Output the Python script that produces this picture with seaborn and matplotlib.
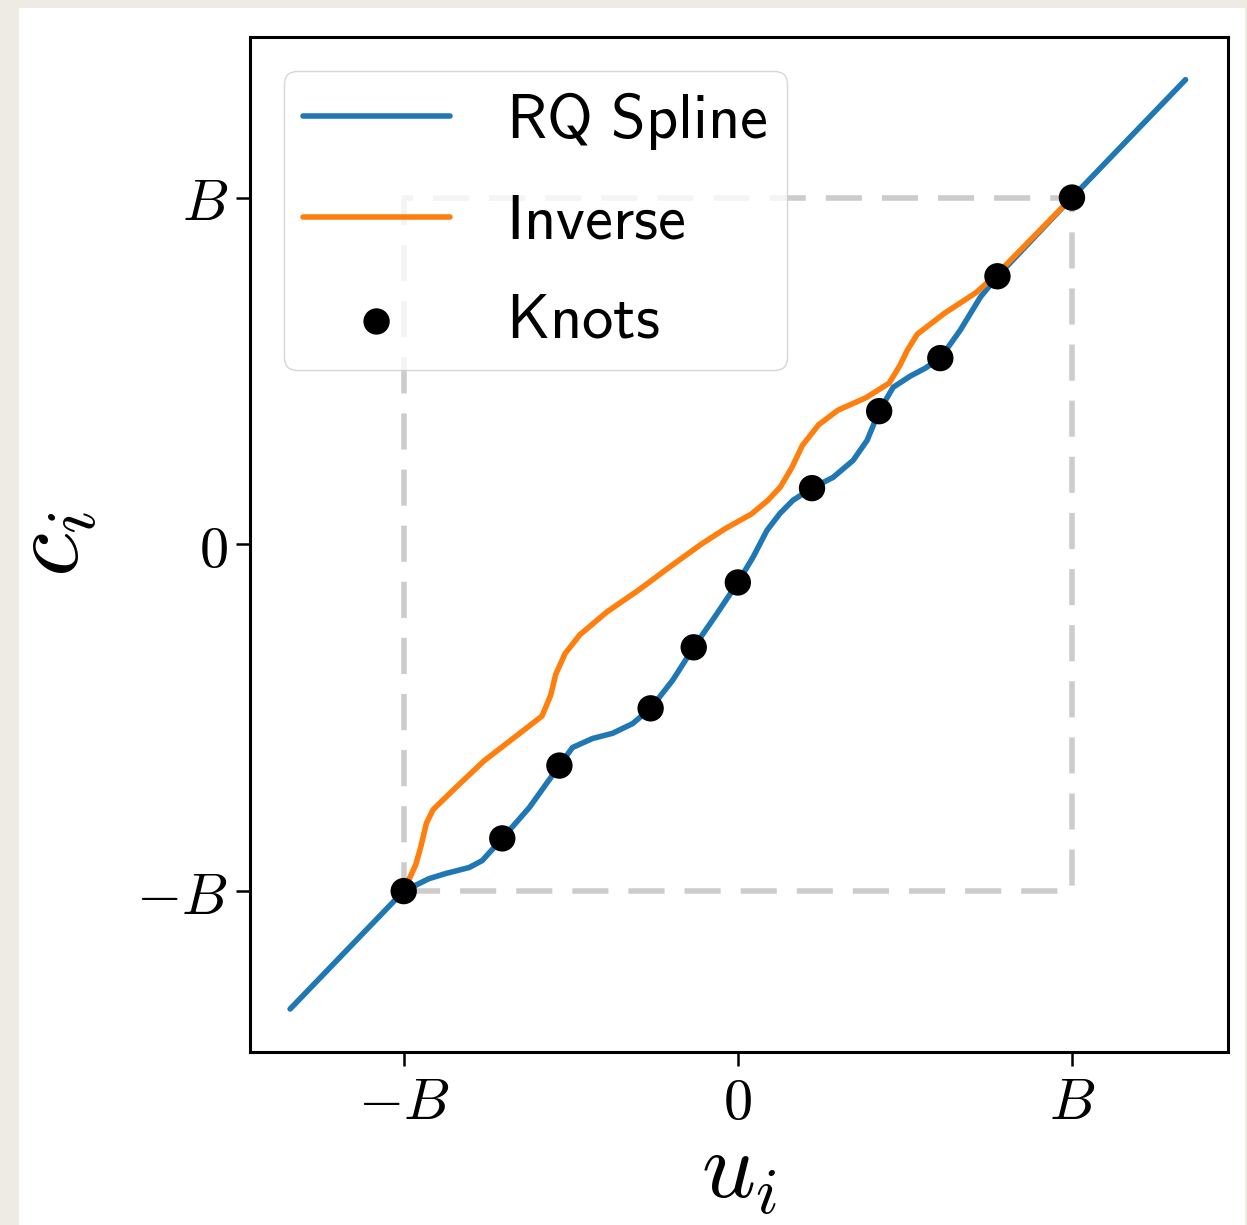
import numpy as np
import matplotlib
matplotlib.use('Agg')
import matplotlib.pyplot as plt
import seaborn as sns
from matplotlib.patches import Rectangle

# knots of the spline (in units of B)
knot_x = [-1.0, -0.705, -0.534, -0.261, -0.132, 0.0, 0.222, 0.423, 0.606, 0.777, 1.0]
knot_y = [-1.0, -0.848, -0.638, -0.473, -0.297, -0.110, 0.162, 0.384, 0.537, 0.773, 1.0]

# traced spline curve (identity outside [-B, B])
curve_x = [-1.34, -1.0, -0.924, -0.873, -0.804, -0.765, -0.705, -0.624, -0.534, -0.495,
           -0.435, -0.375, -0.315, -0.261, -0.195, -0.132, -0.066, 0.0, 0.045, 0.087,
           0.126, 0.165, 0.222, 0.285, 0.345, 0.387, 0.423, 0.465, 0.516, 0.561,
           0.606, 0.666, 0.726, 0.777, 1.0, 1.34]
curve_y = [-1.34, -1.0, -0.964, -0.949, -0.932, -0.912, -0.848, -0.759, -0.638, -0.586,
           -0.560, -0.545, -0.517, -0.473, -0.392, -0.297, -0.205, -0.110, -0.038, 0.040,
           0.089, 0.127, 0.162, 0.193, 0.242, 0.300, 0.384, 0.453, 0.485, 0.508,
           0.537, 0.618, 0.713, 0.773, 1.0, 1.34]

tick_vals = [-1.0, 0.0, 1.0]
tick_labels = [r'$-B$', r'$0$', r'$B$']

B = 1.0

sns.set_style('ticks')
plt.rcParams['mathtext.fontset'] = 'cm'
plt.rcParams['font.family'] = ['DejaVu Sans']
plt.rcParams['text.color'] = 'black'
plt.rcParams['axes.labelcolor'] = 'black'
plt.rcParams['xtick.color'] = 'black'
plt.rcParams['ytick.color'] = 'black'

fig = plt.figure(figsize=(12.47, 12.25), dpi=100, facecolor='#eeebe5')
fig.patches.append(Rectangle((19 / 1247, 0), (1245 - 19) / 1247, (1225 - 8) / 1225,
                             transform=fig.transFigure, facecolor='white',
                             edgecolor='none', zorder=-1))
ax = fig.add_axes([250 / 1247, 173 / 1225, 978 / 1247, 1015 / 1225])
ax.set_facecolor('white')

# dashed box of the spline domain
ax.plot([-B, B, B, -B, -B], [-B, -B, B, B, -B], color='#cccccc', lw=4.0,
        dashes=(6.5, 3.6), zorder=1)

sns.lineplot(x=curve_x, y=curve_y, sort=False, estimator=None, color='#1f77b4',
             lw=4.0, label=r'$\mathsf{RQ\ Spline}$', ax=ax, zorder=3)
inv_x = curve_y[1:-1]
inv_y = curve_x[1:-1]
sns.lineplot(x=inv_x, y=inv_y, sort=False, estimator=None, color='#ff7f0e',
             lw=4.0, label=r'$\mathsf{Inverse}$', ax=ax, zorder=3)
sns.scatterplot(x=knot_x, y=knot_y, color='black', s=360, edgecolor='none',
                label=r'$\mathsf{Knots}$', ax=ax, zorder=4)

ax.set_xlim(-1.46, 1.467)
ax.set_ylim(-1.464, 1.463)
ax.set_xticks(tick_vals, tick_labels)
ax.set_yticks(tick_vals, tick_labels)
ax.tick_params(labelsize=42, length=10, width=1.8, pad=6)
for sp in ax.spines.values():
    sp.set_linewidth(2.2)
    sp.set_color('black')

ax.set_xlabel(r'$u_i$', fontsize=68, labelpad=-4)
ax.set_ylabel(r'$c_i$', fontsize=72, labelpad=26)

leg = ax.legend(loc='upper left', fontsize=45, handlelength=2.35, handletextpad=0.9,
                labelspacing=0.63, borderpad=0.3, borderaxespad=0.55, framealpha=0.8)

fig.savefig('out.png', dpi=100, facecolor=fig.get_facecolor())
